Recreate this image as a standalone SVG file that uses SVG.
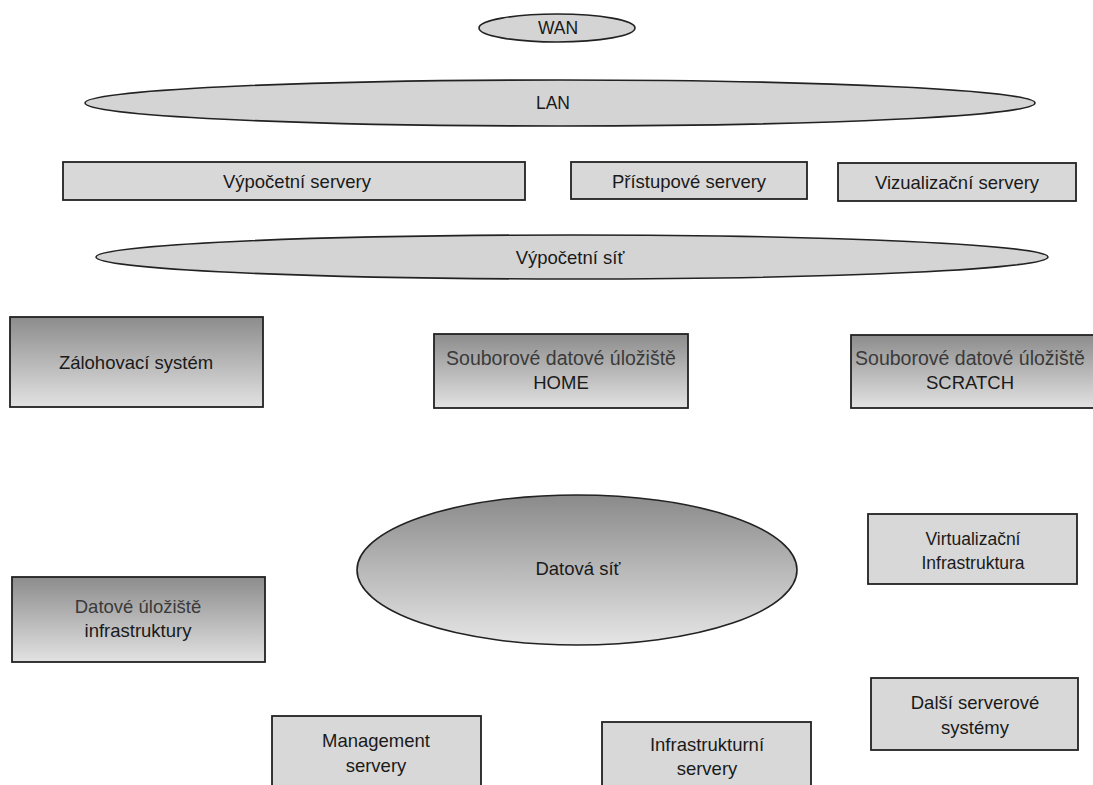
<svg xmlns="http://www.w3.org/2000/svg" width="1093" height="785" viewBox="0 0 1093 785">
<defs>
<linearGradient id="dark" x1="0" y1="0" x2="0" y2="1">
<stop offset="0" stop-color="#8c8c8c"/>
<stop offset="1" stop-color="#e2e2e2"/>
</linearGradient>
<linearGradient id="darkE" x1="0" y1="0" x2="0" y2="1">
<stop offset="0" stop-color="#8a8a8a"/>
<stop offset="1" stop-color="#e6e6e6"/>
</linearGradient>
<style>
.light{fill:#d8d8d8;stroke:#222;stroke-width:1.8}
.grad{fill:url(#dark);stroke:#222;stroke-width:1.8}
.ell{fill:#d4d4d4;stroke:#222;stroke-width:1.6}
text{font-family:"Liberation Sans",Arial,sans-serif;font-size:18.5px;fill:#1a1a1a;text-anchor:middle}
.big{font-size:19.5px;fill:#3a3a3a}
.sm{font-size:17.5px}
</style>
</defs>
<rect width="1093" height="785" fill="#ffffff"/>
<g id="connectors"></g>
<g id="wan"><ellipse class="ell" cx="557" cy="28" rx="78" ry="14"/><text class="sm" x="558" y="34">WAN</text></g>
<g id="lan"><ellipse class="ell" cx="560" cy="103" rx="475" ry="23"/><text class="sm" x="553" y="109">LAN</text></g>
<g id="vypocetni-servery"><rect class="light" x="63" y="162" width="462" height="38"/><text x="297" y="188">Výpočetní servery</text></g>
<g id="pristupove-servery"><rect class="light" x="571" y="162" width="236" height="37"/><text x="689" y="188">Přístupové servery</text></g>
<g id="vizualizacni-servery"><rect class="light" x="838" y="163" width="238" height="38"/><text x="957" y="189">Vizualizační servery</text></g>
<g id="vypocetni-sit"><ellipse class="ell" cx="572" cy="257" rx="476" ry="22"/><text x="570" y="264">Výpočetní síť</text></g>
<g id="zalohovaci-system"><rect class="grad" x="10" y="317" width="253" height="90"/><text x="136" y="369">Zálohovací systém</text></g>
<g id="home"><rect class="grad" x="434" y="334" width="254" height="74"/><text class="big" x="561" y="365">Souborové datové úložiště</text><text x="561" y="389">HOME</text></g>
<g id="scratch"><rect class="grad" x="851" y="335" width="250" height="73"/><text class="big" x="970" y="365">Souborové datové úložiště</text><text x="970" y="389">SCRATCH</text></g>
<g id="datova-sit"><ellipse cx="577" cy="570" rx="220" ry="75" fill="url(#darkE)" stroke="#222" stroke-width="1.6"/><text x="578" y="575">Datová síť</text></g>
<g id="virtualizacni"><rect class="light" x="868" y="514" width="209" height="70"/><text class="sm" x="973" y="545">Virtualizační</text><text class="sm" x="973" y="569">Infrastruktura</text></g>
<g id="datove-uloziste-infra"><rect class="grad" x="12" y="577" width="253" height="85"/><text x="138" y="613" style="fill:#3a3a3a">Datové úložiště</text><text x="138" y="637">infrastruktury</text></g>
<g id="dalsi-serverove"><rect class="light" x="871" y="678" width="207" height="72"/><text x="975" y="709">Další serverové</text><text x="975" y="734">systémy</text></g>
<g id="management"><rect class="light" x="272" y="716" width="209" height="75"/><text x="376" y="747">Management</text><text x="376" y="772">servery</text></g>
<g id="infrastrukturni"><rect class="light" x="602" y="722" width="209" height="70"/><text x="707" y="751">Infrastrukturní</text><text x="707" y="775">servery</text></g>
</svg>
